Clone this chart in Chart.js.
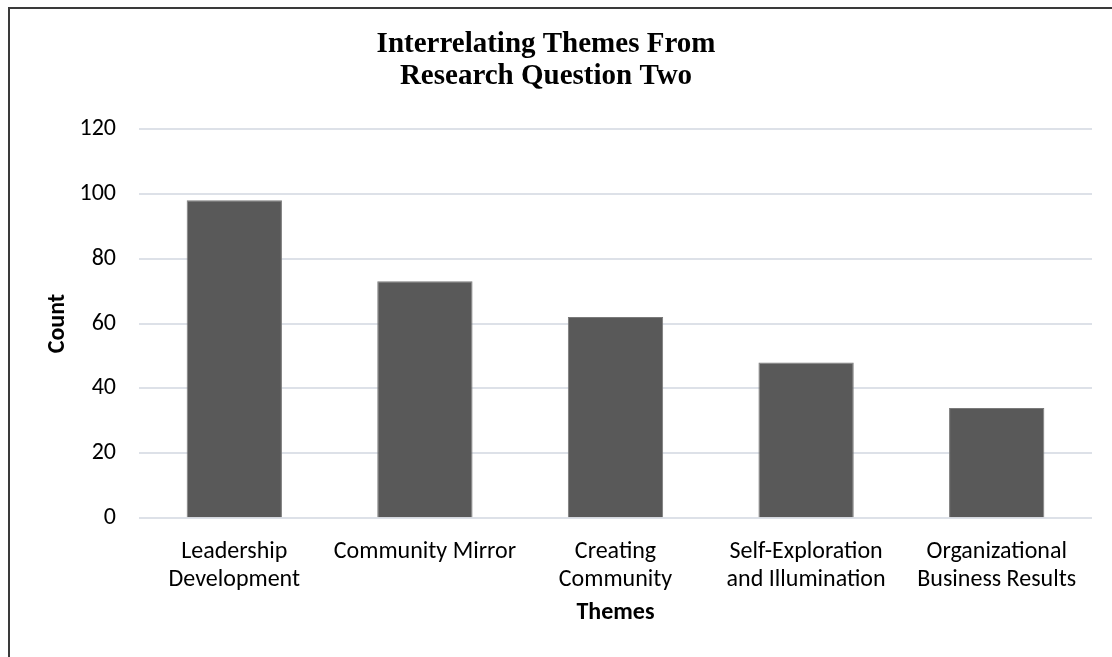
<!DOCTYPE html>
<html>
<head>
<meta charset="utf-8">
<script src="https://cdn.jsdelivr.net/npm/chart.js@4.4.1/dist/chart.umd.min.js"></script>
<style>
    html, body { margin: 0; padding: 0; background: #fff; overflow: hidden; }
    #kader { position: absolute; left: 8px; top: 7px; width: 1200px; height: 800px; border: 2px solid #3a3a3a; }
    #grafiek { position: absolute; left: 0; top: 0; }
</style>
</head>
<body>
<div id="kader"></div>
<canvas id="grafiek" width="1112" height="657"></canvas>
<script>
const themas = [
    ["Leadership", "Development"],
    "Community Mirror",
    ["Creating", "Community"],
    ["Self-Exploration", "and Illumination"],
    ["Organizational", "Business Results"]
];
const aantallen = [98, 73, 62, 48, 34];
const titelRegels = ["Interrelating Themes From", "Research Question Two"];

const letter = "Carlito, Calibri, Lato, sans-serif";

const ctx = document.getElementById('grafiek').getContext('2d');
new Chart(ctx, {
    type: 'bar',
    data: {
        labels: themas,
        datasets: [{
            label: 'Count',
            data: aantallen,
            backgroundColor: '#595959',
            borderColor: '#7a7a7a',
            borderWidth: 1,
            categoryPercentage: 1,
            barPercentage: 0.5
        }]
    },
    options: {
        responsive: false,
        animation: false,
        layout: { padding: { left: 0, right: 20, top: 0, bottom: 0 } },
        plugins: {
            legend: { display: false },
            tooltip: { enabled: false },
            title: {
                display: true,
                text: titelRegels,
                color: '#000',
                font: { family: "'Liberation Serif', 'Times New Roman', serif", size: 29, weight: 'bold', lineHeight: 1.1 },
                padding: { top: 29, bottom: 36 }
            }
        },
        scales: {
            x: {
                grid: { display: false },
                border: { display: false },
                ticks: {
                    color: '#000',
                    padding: 12,
                    maxRotation: 0,
                    autoSkip: false,
                    font: { family: letter, size: 24, lineHeight: 1.17 }
                },
                title: {
                    display: true,
                    text: 'Themes',
                    color: '#000',
                    font: { family: letter, size: 24, weight: 'bold', lineHeight: 1.2 },
                    padding: { top: 30, bottom: 30 }
                },
                afterFit: function(schaal) { schaal.height = 138.7; }
            },
            y: {
                min: 0,
                max: 120,
                grid: { color: '#dde1e8', lineWidth: 2, drawTicks: false },
                border: { display: false },
                ticks: {
                    stepSize: 20,
                    color: '#000',
                    padding: 23,
                    font: { family: letter, size: 24 }
                },
                title: {
                    display: true,
                    text: 'Count',
                    color: '#000',
                    font: { family: letter, size: 24, weight: 'bold', lineHeight: 1.2 },
                    padding: { top: 44, bottom: 0 }
                },
                afterFit: function(schaal) { schaal.width = 139; }
            }
        }
    }
});
</script>
</body>
</html>
